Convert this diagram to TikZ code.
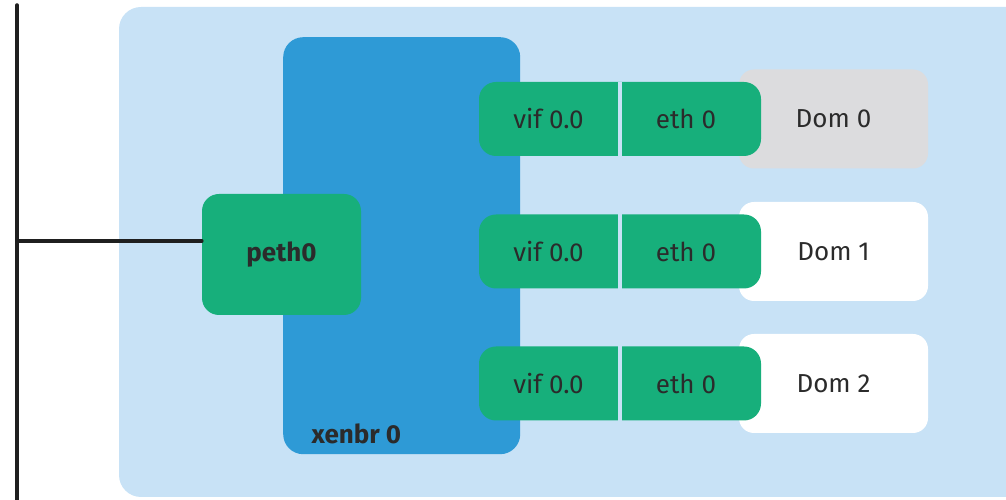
\documentclass[tikz,border=0pt]{standalone}
\usepackage{fontspec}
\setmainfont{Fira Sans}
\usepackage{tikz}

\definecolor{hostblue}{HTML}{C8E2F6}
\definecolor{bridgeblue}{HTML}{2E9AD6}
\definecolor{portgreen}{HTML}{17AF7B}
\definecolor{domgray}{HTML}{DCDCDE}
\definecolor{textgray}{HTML}{2B2B2B}
\definecolor{wiregray}{HTML}{1F1F1F}

\begin{document}
\begin{tikzpicture}[x=1pt,y=1pt,
  txt/.style={text=textgray,font=\fontsize{26}{30}\selectfont},
  hostbox/.style={fill=hostblue,rounded corners=22,minimum width=911,minimum height=490},
  bridgebox/.style={fill=bridgeblue,rounded corners=20,minimum width=237,minimum height=417},
  nicbox/.style={fill=portgreen,rounded corners=17,minimum width=159,minimum height=121},
  linkbox/.style={fill=portgreen,rounded corners=17,minimum width=282,minimum height=74},
  dombox/.style={txt,rounded corners=15,minimum width=189,minimum height=99},
  wire/.style={wiregray,line width=3.5,line cap=round}]
\useasboundingbox (0,0) rectangle (1006,500);
\node [hostbox] (host) at (574.5,248) {};
\node [bridgebox,anchor=north west] (xenbr) at (283,463) {};
\node [txt,font=\fontsize{26}{30}\selectfont\bfseries,anchor=base west] (xenbrlabel)
  at ([xshift=25,yshift=11]xenbr.south west) {xenbr 0};
\node [nicbox,txt,font=\fontsize{26}{30}\selectfont\bfseries] (peth) at (281.5,245.5) {peth0};
% domains with their vif/eth pair
\foreach \n/\y/\c in {0/381/domgray,1/248.5/white,2/116.5/white}{
  \node [dombox,fill=\c] (dom\n) at (833.5,\y) {Dom \n};
  \node [linkbox] (link\n) at (620,\y) {};
  \draw [hostblue,line width=4] (link\n.north) -- (link\n.south);
  \node [txt] (vif\n) at (548.5,\y) {vif 0.0};
  \node [txt] (eth\n) at (686,\y) {eth 0};
}
% uplink
\coordinate (top) at (17,495);
\coordinate (bottom) at (17,-5);
\draw [wire] (top) -- (bottom);
\draw [wire] ([yshift=13.5]peth.west) -- ([yshift=13.5]peth.west -| top);
\end{tikzpicture}
\end{document}
